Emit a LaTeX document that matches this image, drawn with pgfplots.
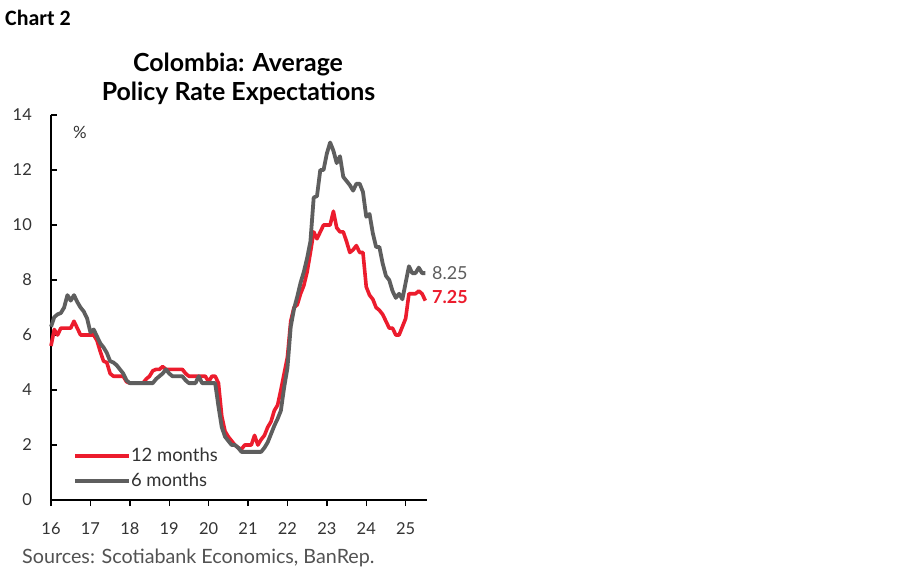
\documentclass[border=0pt]{standalone}
\usepackage{fontspec}
\setmainfont{Lato}
\newfontfamily\carlito{Carlito}
\usepackage{pgfplots}
\usepackage{pgfplotstable}
\pgfplotsset{compat=1.18}
\definecolor{sred}{HTML}{EC1C2D}
\definecolor{sgray}{HTML}{5E5E5E}
\definecolor{txt}{HTML}{333333}

% month index from Jan 2016; 12-month and 6-month expectations, %
\pgfplotstableread{
m twelve six
0 5.6 6.3
1 6.2 6.65
2 6.0 6.75
3 6.25 6.8
4 6.25 7.0
5 6.25 7.45
6 6.25 7.25
7 6.5 7.45
8 6.25 7.2
9 6.0 7.0
10 6.0 6.85
11 6.0 6.6
12 6.0 6.1
13 6.0 6.2
14 5.8 5.95
15 5.4 5.7
16 5.05 5.55
17 5.0 5.35
18 4.6 5.05
19 4.5 5.0
20 4.5 4.9
21 4.5 4.75
22 4.5 4.6
23 4.3 4.35
24 4.25 4.25
25 4.25 4.25
26 4.25 4.25
27 4.25 4.25
28 4.25 4.25
29 4.4 4.25
30 4.5 4.25
31 4.7 4.25
32 4.75 4.4
33 4.75 4.5
34 4.85 4.6
35 4.75 4.75
36 4.75 4.6
37 4.75 4.5
38 4.75 4.5
39 4.75 4.5
40 4.75 4.5
41 4.6 4.35
42 4.5 4.25
43 4.5 4.25
44 4.5 4.25
45 4.5 4.5
46 4.5 4.25
47 4.5 4.25
48 4.3 4.25
49 4.5 4.25
50 4.5 4.25
51 4.25 3.4
52 3.05 2.65
53 2.5 2.3
54 2.3 2.15
55 2.15 2.0
56 2.0 2.0
57 1.9 1.9
58 1.85 1.75
59 2.0 1.75
60 2.0 1.75
61 2.0 1.75
62 2.35 1.75
63 2.0 1.75
64 2.2 1.75
65 2.35 1.9
66 2.65 2.1
67 2.85 2.4
68 3.25 2.7
69 3.45 2.95
70 4.0 3.25
71 4.6 4.1
72 5.2 4.8
73 6.5 6.3
74 7.0 6.95
75 7.1 7.4
76 7.5 7.9
77 7.8 8.3
78 8.3 8.8
79 9.0 9.4
80 9.75 11.0
81 9.5 11.05
82 9.75 12.0
83 10.0 12.0
84 10.0 12.6
85 10.0 13.0
86 10.5 12.7
87 9.9 12.25
88 9.75 12.5
89 9.75 11.75
90 9.4 11.6
91 9.0 11.45
92 9.1 11.25
93 9.25 11.5
94 9.0 11.5
95 9.0 11.2
96 7.75 10.3
97 7.45 10.4
98 7.3 9.7
99 7.0 9.2
100 6.9 9.2
101 6.75 8.6
102 6.5 8.15
103 6.25 8.0
104 6.25 7.6
105 6.0 7.35
106 6.0 7.5
107 6.3 7.3
108 6.6 7.9
109 7.5 8.5
110 7.5 8.25
111 7.5 8.25
112 7.6 8.45
113 7.5 8.25
114 7.25 8.25
}\rates

\begin{document}
\begin{tikzpicture}
\useasboundingbox[fill=white] (0bp,0bp) rectangle (900bp,579bp);
\begin{axis}[
  at={(51bp,79bp)}, anchor=south west,
  scale only axis, width=376bp, height=385bp,
  xmin=0, xmax=114.5, ymin=0, ymax=14,
  axis lines*=left,
  axis line style={black, line width=1.6bp},
  xtick={0,12,...,108},
  xticklabels={16,17,18,19,20,21,22,23,24,25},
  ytick={0,2,...,14},
  tick align=inside,
  major tick length=6bp,
  tick style={black, line width=1.4bp},
  xtick style={yshift=-6bp},
  every tick label/.append style={font=\fontsize{16.5}{16.5}\selectfont, text=txt, inner sep=0pt},
  yticklabel style={anchor=east, xshift=-19bp},
  xticklabel style={anchor=north, yshift=-22bp},
  /pgf/number format/assume math mode=true,
  clip=false,
  legend style={at={(0.058,0.135)}, anchor=north west, draw=none, fill=none,
    inner sep=0pt, row sep=10bp, font=\fontsize{18.5}{18.5}\selectfont, text=txt,
    nodes={inner sep=0pt},
    /tikz/every even column/.append style={column sep=8bp}},
  legend cell align=left,
  legend image code/.code={\draw[#1, line width=4bp] (0bp,0bp) -- (54bp,0bp);},
]
\addplot[sred, line width=3.6bp, line join=round] table[x=m, y=twelve] {\rates};
\addlegendentry{12 months}
\addplot[sgray, line width=3.8bp, line join=round] table[x=m, y=six] {\rates};
\addlegendentry{6 months}
\end{axis}
\node[anchor=base west, inner sep=0pt, font=\carlito\bfseries\fontsize{22}{22}\selectfont] at (5bp,553bp) {Chart 2};
\node[anchor=base, inner sep=0pt, font=\bfseries\fontsize{25}{25}\selectfont] at (238bp,507bp) {Colombia: Average};
\node[anchor=base, inner sep=0pt, font=\bfseries\fontsize{25}{25}\selectfont] at (238.5bp,478bp) {Policy Rate Expectations};
\node[anchor=center, inner sep=0pt, text=txt, font=\fontsize{17}{17}\selectfont] at (80bp,447bp) {\%};
\node[anchor=base west, inner sep=0pt, text=sgray, font=\fontsize{18}{18}\selectfont] at (432bp,299bp) {8.25};
\node[anchor=base west, inner sep=0pt, text=sred, font=\bfseries\fontsize{18}{18}\selectfont] at (432bp,275bp) {7.25};
\node[anchor=base west, inner sep=0pt, text=txt!85!white, font=\fontsize{19.8}{19.8}\selectfont] at (22bp,16bp) {Sources: Scotiabank Economics, BanRep.};
\end{tikzpicture}
\end{document}
